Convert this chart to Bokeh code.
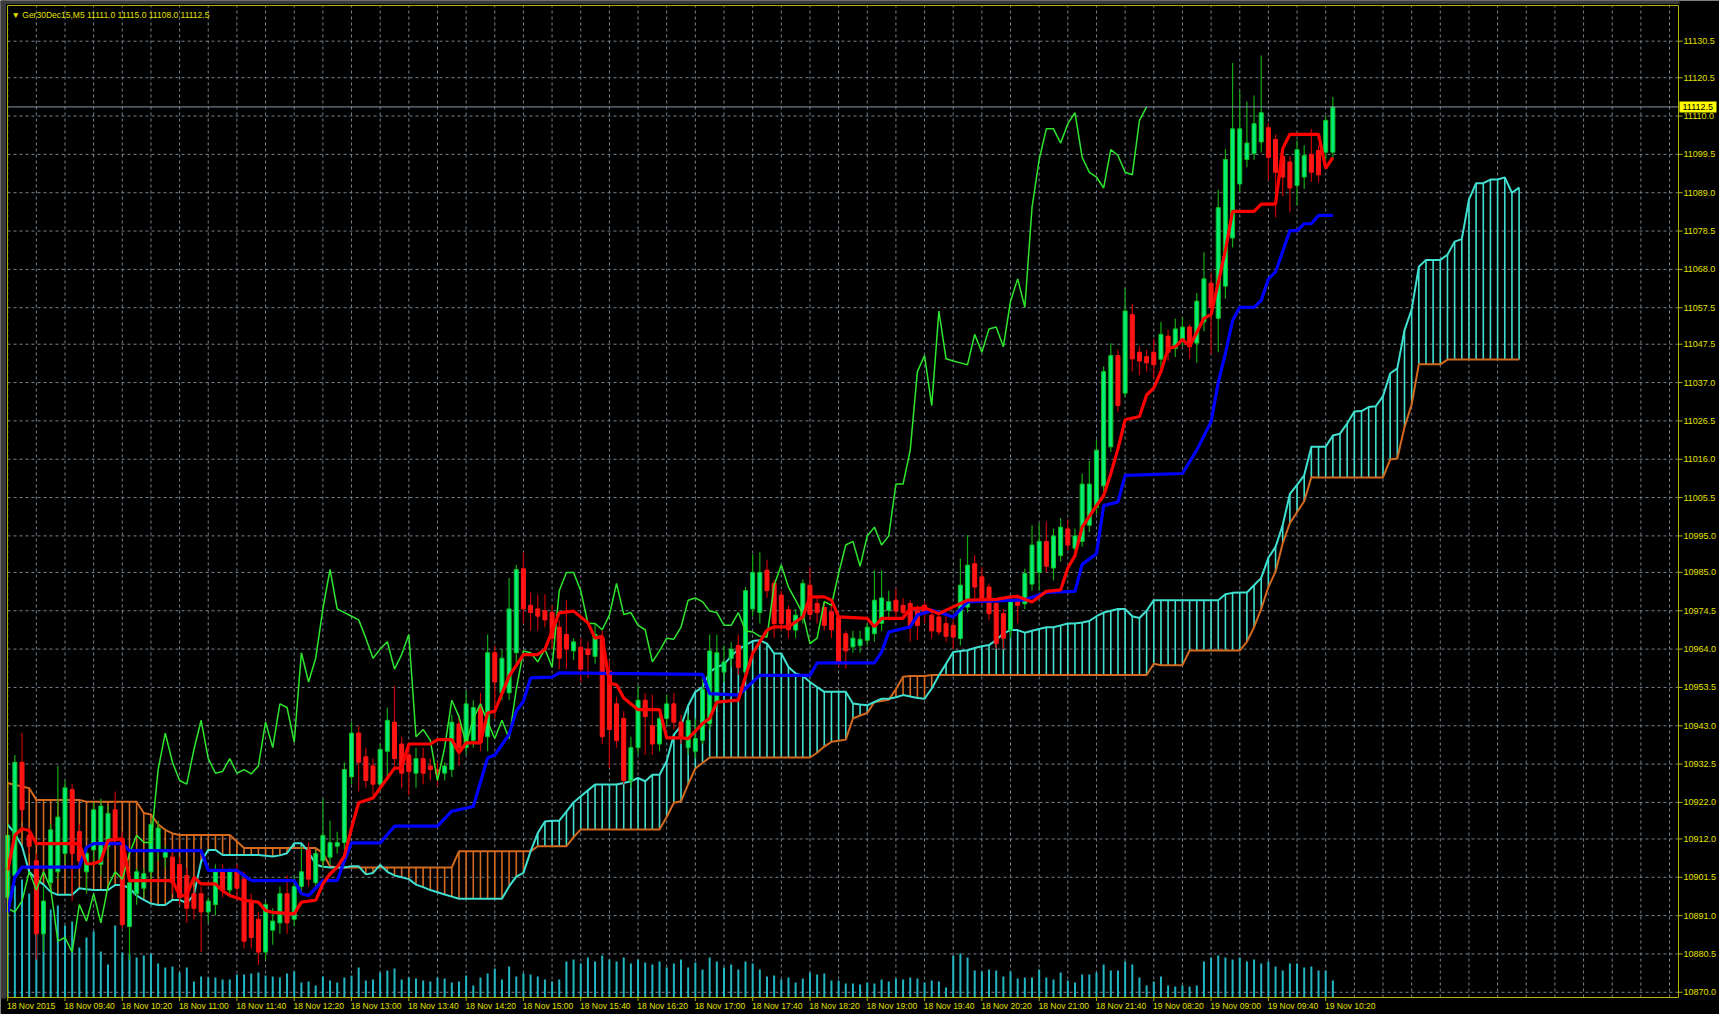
from bokeh.plotting import figure
from bokeh.models import Range1d, ColumnDataSource
from bokeh.embed import file_html
from bokeh.resources import INLINE
from bokeh.core.properties import value

# ---------------- data (M5 bars, index 0 = 18 Nov 2015 09:00) ----------------
time_bars = [0, 8, 16, 24, 32, 40, 48, 56, 64, 72, 80, 88, 96, 104, 112, 120,
             128, 136, 144, 152, 160, 168, 176, 184]
time_labels = ["18 Nov 2015", "18 Nov 09:40", "18 Nov 10:20", "18 Nov 11:00", "18 Nov 11:40",
               "18 Nov 12:20", "18 Nov 13:00", "18 Nov 13:40", "18 Nov 14:20", "18 Nov 15:00",
               "18 Nov 15:40", "18 Nov 16:20", "18 Nov 17:00", "18 Nov 17:40", "18 Nov 18:20",
               "18 Nov 19:00", "18 Nov 19:40", "18 Nov 20:20", "18 Nov 21:00", "18 Nov 21:40",
               "19 Nov 08:20", "19 Nov 09:00", "19 Nov 09:40", "19 Nov 10:20"]

price_ticks = [11130.5, 11120.5, 11110.0, 11099.5, 11089.0, 11078.5, 11068.0, 11057.5,
               11047.5, 11037.0, 11026.5, 11016.0, 11005.5, 10995.0, 10985.0, 10974.5,
               10964.0, 10953.5, 10943.0, 10932.5, 10922.0, 10912.0, 10901.5, 10891.0,
               10880.5, 10870.0]

opens = [
    10896, 10902, 10933, 10913, 10906, 10886, 10900, 10903, 10908, 10925.5,
    10914, 10903, 10909, 10905, 10910, 10920, 10912, 10888, 10897, 10898.5,
    10903, 10909, 10907, 10907, 10905, 10902, 10897, 10897, 10892, 10894,
    10903, 10898, 10903, 10901, 10895, 10890, 10881, 10887, 10889, 10897,
    10890, 10899, 10909, 10900, 10906, 10907, 10910, 10911, 10929, 10941,
    10934.5, 10932, 10927, 10936, 10944, 10938, 10935, 10930, 10934, 10932,
    10931, 10930, 10931, 10943.5, 10937, 10939, 10948, 10940, 10963, 10952,
    10952, 10963, 10986, 10976, 10975, 10974.5, 10974, 10970, 10968, 10963.5,
    10964.5, 10964, 10962, 10967, 10958, 10949, 10945, 10928, 10937, 10950,
    10943, 10938, 10945, 10949, 10944, 10937, 10936, 10939, 10943.6, 10949.5,
    10957.7, 10961.4, 10965, 10957.7, 10975, 10974, 10985.6, 10982, 10978.8, 10974.8,
    10969.2, 10972.8, 10981.5, 10976.5, 10975.4, 10974.2, 10972.8, 10968.2, 10964.6, 10965,
    10966.4, 10968.2, 10971, 10974.6, 10977.4, 10976, 10976.5, 10974.6, 10976, 10973.3,
    10972.8, 10971, 10970.5, 10966.9, 10975.5, 10987.4, 10983.8, 10981, 10976.5, 10973.7,
    10969.2, 10977, 10976.4, 10981.8, 10985, 10993.5, 10986.2, 10989.6, 10996.9, 10991.6,
    10993.5, 10997.9, 11002.8, 11008.7, 11019.4, 11044.4, 11034.1, 11055.6, 11045.3, 11044.1,
    11045.3, 11043.4, 11049.7, 11046.3, 11048.8, 11052.2, 11047.8, 11053.6, 11064.2, 11054.6,
    11063.4, 11076.6, 11091.4, 11098.1, 11099.7, 11102.9, 11106.8, 11103.6, 11098.9, 11097.4,
    11091.0, 11093.3, 11099.5, 11100.6, 11100.1, 11100.1]

highs = [
    10916, 10935, 10941, 10915, 10908, 10899, 10916, 10932, 10928, 10927,
    10916, 10910, 10922, 10923, 10921, 10925, 10914, 10901, 10904, 10904,
    10917, 10917, 10910, 10909, 10907, 10904, 10899, 10899, 10896, 10905,
    10905, 10904, 10905, 10903, 10897, 10892, 10895, 10893, 10899, 10902,
    10902, 10910, 10911, 10909, 10923, 10917, 10914, 10933, 10944, 10943,
    10937, 10934, 10938, 10948, 10954, 10940, 10937, 10937, 10937, 10934,
    10933, 10933, 10946, 10946, 10952.5, 10950, 10952, 10968, 10965, 10964,
    10983.5, 10987, 10990.5, 10979.5, 10979, 10979, 10976, 10972, 10977.5, 10967,
    10967, 10966, 10971, 10969, 10961, 10951, 10947, 10940, 10954, 10952,
    10951.5, 10946, 10951.5, 10952, 10946, 10946, 10945, 10956, 10968, 10968,
    10965, 10966, 10968, 10981, 10990, 10990.5, 10988.5, 10983, 10980, 10976,
    10975, 10983, 10986.5, 10978, 10977, 10976, 10974, 10969, 10969, 10969,
    10971, 10985.6, 10985.6, 10980, 10980.6, 10978, 10977.4, 10976, 10977, 10975,
    10974, 10973, 10972, 10988.8, 10995.2, 10989.7, 10986.5, 10982, 10978, 10975,
    10979, 10979, 10986, 10997.9, 10998.5, 10999, 10997, 10999.9, 10999.5, 10997,
    11012.1, 11015.5, 11021.4, 11041.5, 11047.8, 11046, 11062.9, 11058.5, 11047, 11046,
    11049, 11053.6, 11051.5, 11054.5, 11055, 11053, 11061.5, 11072.7, 11067, 11089.8,
    11101, 11124.5, 11117, 11114, 11115.6, 11126.6, 11108, 11105, 11101, 11099,
    11103.3, 11102, 11106.5, 11102, 11110, 11115.2]

lows = [
    10893, 10900, 10917, 10908, 10879, 10881, 10899, 10901, 10905, 10895,
    10905, 10897, 10906, 10902, 10907, 10910, 10887.5, 10879, 10894, 10896,
    10901, 10906, 10904, 10897, 10894, 10889, 10890, 10881, 10889, 10891,
    10896, 10896, 10896, 10882, 10882, 10877.5, 10879, 10883, 10886, 10886,
    10888, 10897, 10899, 10898, 10904, 10905, 10908, 10909, 10927, 10925,
    10926, 10924, 10925, 10928, 10932, 10926, 10924, 10926, 10927, 10928,
    10926.5, 10928, 10929, 10932, 10935, 10937, 10936, 10936, 10945, 10950,
    10950, 10960, 10971, 10969, 10969, 10970, 10964, 10958.5, 10958.5, 10961,
    10955, 10956, 10960, 10938, 10931.5, 10937, 10927, 10926, 10935, 10935,
    10935, 10936, 10943, 10942, 10938, 10935, 10934, 10938, 10942, 10948,
    10955, 10959, 10957, 10956, 10973, 10971, 10978, 10967, 10969, 10967,
    10967, 10971, 10972, 10971, 10969, 10967, 10959, 10958.7, 10963, 10963,
    10965, 10966, 10969, 10972, 10973, 10972, 10966, 10966.4, 10971, 10967,
    10967.8, 10966, 10964, 10965, 10974, 10978, 10976, 10972, 10964, 10964,
    10967, 10971, 10975, 10980, 10980, 10985, 10982.8, 10988, 10991, 10990,
    10992, 10996, 11001, 11007, 11018, 11029, 11033, 11040, 11039, 11040,
    11038, 11041, 11043, 11044, 11047, 11043.4, 11042.4, 11051, 11044.8, 11045.3,
    11060, 11074, 11089, 11096, 11098, 11100, 11092.4, 11082.3, 11088, 11083.7,
    11085.5, 11090, 11092, 11091.9, 11098, 11098]

closes = [
    10913, 10933, 10920, 10910, 10886, 10895, 10914.5, 10918, 10926, 10908,
    10906, 10908, 10920, 10921, 10919, 10912, 10888.5, 10900, 10903, 10902.5,
    10916, 10915, 10909, 10900, 10896, 10893, 10893, 10892, 10895, 10903,
    10898, 10903, 10898.5, 10884, 10885, 10881, 10894, 10889.5, 10897, 10889,
    10899, 10903, 10901, 10908, 10913, 10911, 10911, 10931, 10941, 10933,
    10928, 10927, 10936.5, 10944.5, 10934, 10930, 10930.5, 10934, 10930, 10931,
    10929.8, 10932, 10944, 10937, 10949, 10948, 10938.5, 10963, 10955, 10961.5,
    10975, 10985.8, 10975, 10974, 10973, 10972, 10967, 10961.5, 10964, 10966,
    10958.5, 10962.5, 10968, 10940, 10942, 10939, 10928, 10937, 10950, 10945.5,
    10938, 10945, 10949, 10944, 10939.5, 10944.5, 10939.5, 10953, 10963.5, 10963,
    10960.5, 10964, 10959, 10980, 10985, 10985, 10980, 10971, 10971, 10969.3,
    10973.3, 10982, 10973.5, 10974, 10970.5, 10969.3, 10960.5, 10963.5, 10967, 10966.7,
    10970, 10977.4, 10978, 10977, 10974.4, 10974, 10970.5, 10970.5, 10974, 10969,
    10968.7, 10967.5, 10967.3, 10981.5, 10987, 10981, 10977.4, 10973.7, 10965.5, 10967,
    10977, 10976, 10984.7, 10992.5, 10993.5, 10986.7, 10995, 10997.4, 10992.5, 10995,
    11009.2, 11009.2, 11018.5, 11040.0, 11044.4, 11030.7, 11056.6, 11043.5, 11042.9, 11042.4,
    11041.9, 11050.2, 11045.3, 11051.7, 11052.2, 11046.8, 11059.3, 11065.4, 11057.6, 11084.9,
    11098.1, 11106.5, 11106.5, 11102.6, 11107.9, 11110.9, 11098.7, 11094.6, 11093.3, 11090.3,
    11100.8, 11099.2, 11094.6, 11093.9, 11108.8, 11112.5]

volumes = [
    105, 112, 118, 104, 96, 86, 88, 92, 72, 76,
    50, 60, 66, 46, 33, 72, 45, 43, 40, 42,
    44, 34, 30, 31, 25, 30, 16, 21, 20, 20,
    18, 18, 23, 23, 24, 25, 22, 21, 20, 24,
    26, 15, 16, 12, 21, 17, 15, 20, 22, 30,
    17, 18, 25, 27, 29, 18, 20, 19, 17, 16,
    20, 19, 15, 16, 22, 12, 20, 24, 29, 18,
    31, 21, 24, 23, 21, 18, 16, 18, 36, 38,
    34, 40, 36, 42, 38, 36, 40, 34, 38, 35,
    33, 36, 30, 34, 38, 30, 35, 28, 40, 36,
    30, 33, 28, 36, 34, 28, 21, 22, 18, 20,
    15, 19, 25, 23, 24, 17, 17, 14, 14, 13,
    15, 14, 18, 16, 19, 18, 20, 19, 15, 17,
    16, 10, 42, 44, 40, 27, 26, 28, 27, 21,
    26, 19, 20, 20, 28, 20, 18, 25, 17, 15,
    23, 23, 25, 33, 27, 27, 36, 33, 20, 12,
    16, 21, 12, 11, 12, 11, 12, 36, 40, 42,
    40, 38, 40, 36, 38, 34, 36, 31, 27, 34,
    34, 30, 31, 27, 27, 17]

# Ichimoku lines, read as (bar, value) vertices
tenkan = [(0, 10903.4), (1, 10913), (2, 10914.8), (3, 10914.3), (4, 10910.7), (10, 10910.7),
          (11, 10905.2), (12, 10905.2), (13, 10906), (14, 10911.6), (16, 10912), (17, 10900.6),
          (23, 10900.6), (24, 10896.5), (25, 10896.5), (26, 10901.5), (27, 10899.7), (29, 10899.7),
          (30, 10897.8), (31, 10896.5), (33, 10895.2), (35, 10894.7), (36, 10892.4), (37, 10891.9),
          (40, 10891.5), (41, 10894.7), (43, 10895.2), (44, 10899.7), (45, 10902.4), (46, 10904.3),
          (47, 10907.3), (48, 10915), (49, 10921.9), (51, 10923.2), (54, 10931.4), (55, 10931.4),
          (56, 10938), (59, 10938), (60, 10939.2), (62, 10939.2), (63, 10935.6), (64, 10938.3),
          (66, 10938.3), (67, 10946.5), (68, 10947), (70, 10956.6), (72, 10962.5), (74, 10962.5),
          (75, 10963.9), (77, 10973.9), (79, 10974.4), (81, 10971.2), (82, 10967), (83, 10967.5),
          (84, 10954.7), (85, 10954.2), (86, 10950.6), (88, 10947.4), (91, 10947.4), (92, 10939.7),
          (94, 10939.7), (95, 10939.5), (97, 10943.6), (98, 10945), (99, 10949.5), (102, 10950),
          (103, 10956.4), (104, 10962.8), (106, 10969.2), (107, 10970.1), (109, 10970.1),
          (111, 10972.8), (112, 10978.3), (114, 10978.3), (115, 10977.4), (116, 10972.8),
          (120, 10972.4), (121, 10970.1), (122, 10972.4), (125, 10972.4), (126, 10975.1),
          (128, 10975.3), (130, 10973.7), (134, 10977.4), (138, 10977.6), (140, 10978.3),
          (141, 10978.4), (143, 10976.9), (145, 10979.8), (147, 10980.2), (148, 10986.2),
          (149, 10989.6), (150, 10997.4), (152, 11003.3), (153, 11006), (154, 11012),
          (155, 11018.9), (156, 11026.8), (158, 11027.7), (159, 11033.6), (160, 11035.5),
          (161, 11040), (162, 11046.3), (163, 11046.8), (164, 11048.8), (165, 11047),
          (166, 11050.7), (167, 11054.6), (168, 11055.6), (169, 11064.4), (170, 11073.2),
          (171, 11083.9), (174, 11083.9), (175, 11085.9), (177, 11085.9), (178, 11101.1),
          (179, 11105), (183, 11105), (184, 11095.7), (185, 11098.6)]

kijun = [(0, 10891.9), (1, 10901.5), (2, 10904.3), (10, 10904.3), (11, 10909.7), (12, 10910.7),
         (16, 10910.7), (17, 10908.8), (27, 10908.8), (28, 10903.4), (32, 10903.4), (34, 10900.6),
         (40, 10900.6), (41, 10897), (42, 10896.5), (44, 10900.6), (46, 10900.6), (47, 10906),
         (48, 10910.9), (52, 10910.9), (54, 10915.5), (60, 10915.5), (62, 10919.6), (65, 10920.9),
         (67, 10934.2), (68, 10935), (70, 10940.6), (71, 10947), (72, 10949.7), (73, 10956.1),
         (76, 10956.3), (77, 10957.5), (97, 10957.1), (98, 10951.8), (102, 10951.4),
         (103, 10953.2), (105, 10956.8), (112, 10956.8), (113, 10960.2), (121, 10960.2),
         (122, 10963.2), (123, 10968.7), (126, 10970.1), (127, 10973.3), (129, 10974.6),
         (131, 10973.5), (132, 10972.8), (134, 10976.9), (142, 10977.5), (145, 10979.5),
         (149, 10979.8), (150, 10987.2), (152, 10990.1), (153, 11003.3), (155, 11004.3),
         (156, 11011.6), (164, 11012.1), (166, 11018.5), (168, 11026.3), (169, 11037),
         (170, 11045), (171, 11054), (172, 11057.6), (174, 11057.6), (175, 11059.5),
         (176, 11065.4), (177, 11067.3), (179, 11078.6), (180, 11078.6), (181, 11080.5),
         (182, 11080.5), (183, 11082.8), (185, 11082.8)]

senkou_a = [
    10915.9, 10913.5, 10910, 10903, 10901, 10899.5, 10897.5, 10896.7, 10896.7, 10896.7,
    10898.5, 10898.2, 10898, 10898, 10898, 10899.4, 10899.4, 10898.5, 10896.5, 10895.3,
    10894.3, 10893.9, 10893.9, 10895.3, 10895.3, 10894.4, 10896.7, 10905.8, 10909, 10909,
    10907.6, 10907.6, 10907.6, 10907.6, 10907.6, 10907.6, 10907.4, 10907.2, 10907.5, 10908.1,
    10910.8, 10910.8, 10908.5, 10905, 10904.4, 10904.2, 10904.2, 10904.2, 10904.5, 10904.5,
    10902.3, 10902.7, 10904.9, 10903, 10902, 10901.5, 10901, 10899.5, 10898.8, 10898,
    10897.4, 10896.8, 10896.2, 10895.6, 10895.6, 10895.6, 10895.6, 10895.6, 10895.6, 10895.6,
    10899, 10901.7, 10902.7, 10908.6, 10913.6, 10916.8, 10917, 10917, 10919.5, 10922,
    10923.7, 10925.3, 10926.9, 10926.9, 10926.9, 10926.9, 10927.3, 10927.8, 10928.7, 10927.8,
    10929.6, 10929.6, 10933.3, 10940.6, 10943, 10948.5, 10952.3, 10953.6, 10957.7, 10959.1,
    10959.8, 10962, 10964, 10965.1, 10966.2, 10966.4, 10965.5, 10962.8, 10962.8, 10959.1,
    10957.3, 10956.7, 10955, 10953.6, 10952.3, 10952.3, 10952.3, 10952.3, 10949.1, 10948.8,
    10948.6, 10949.5, 10950.4, 10950.4, 10950.8, 10951.4, 10951, 10950.6, 10950.4, 10953.2,
    10956.8, 10960, 10963.2, 10963.5, 10963.7, 10964.3, 10964.8, 10965.1, 10966.5, 10968.3,
    10969.2, 10969.2, 10968.5, 10969, 10969.5, 10970, 10970, 10970.5, 10971, 10971,
    10971.3, 10971.7, 10973, 10974, 10974.5, 10975, 10975, 10973, 10972.5, 10974.5,
    10977.4, 10977.4, 10977.4, 10977.4, 10977.4, 10977.4, 10977.4, 10977.4, 10977.4, 10977.4,
    10979, 10979.4, 10979.5, 10979.5, 10981.5, 10983.5, 10989, 10992, 10998, 11006.5,
    11009, 11011.6, 11019.4, 11019.4, 11019.4, 11022.5, 11023, 11025.8, 11029.1, 11029.2,
    11030.3, 11030.5, 11033.3, 11039.5, 11040.9, 11051.3, 11057, 11068.7, 11070.6, 11070.6,
    11070.6, 11072, 11075.6, 11076.3, 11087.1, 11091.6, 11091.6, 11092.6, 11092.6, 11093.2,
    11089, 11090.4]

senkou_b = [
    10927.3, 10926.8, 10926.4, 10925.9, 10922.7, 10922.7, 10922.7, 10922.7, 10922.7, 10922.7,
    10922.7, 10922.2, 10922.2, 10922.2, 10922.2, 10922.2, 10922.2, 10922.2, 10922.2, 10919.1,
    10918.7, 10916, 10914.5, 10913.5, 10913.1, 10913.1, 10913.1, 10913.1, 10913.1, 10913.1,
    10913.1, 10913.1, 10911.3, 10909.5, 10909.5, 10909.5, 10909.5, 10909.5, 10909.5, 10909.5,
    10909.5, 10909.5, 10909.5, 10909.5, 10908.1, 10904.5, 10904.2, 10904.2, 10904.2, 10904.2,
    10904.2, 10904.2, 10904.2, 10904.2, 10904.2, 10904.2, 10904.2, 10904.2, 10904.2, 10904.2,
    10904.2, 10904.2, 10904.2, 10908.6, 10908.6, 10908.6, 10908.6, 10908.6, 10908.6, 10908.6,
    10908.6, 10908.6, 10908.6, 10908.6, 10910, 10910, 10910, 10910, 10910, 10912.5,
    10914.6, 10914.6, 10914.6, 10914.6, 10914.6, 10914.6, 10914.6, 10914.6, 10914.6, 10914.6,
    10914.6, 10914.6, 10918, 10921.9, 10922.3, 10927, 10931.3, 10932.8, 10934.3, 10934.3,
    10934.3, 10934.3, 10934.3, 10934.3, 10934.3, 10934.3, 10934.3, 10934.3, 10934.3, 10934.3,
    10934.3, 10934.3, 10934.3, 10935.6, 10937.3, 10938.6, 10938.9, 10939.2, 10945, 10945.8,
    10946.5, 10949.5, 10949.8, 10950.1, 10953, 10956.4, 10956.6, 10956.6, 10956.6, 10956.9,
    10956.9, 10956.9, 10956.9, 10956.9, 10956.9, 10956.9, 10956.9, 10956.9, 10956.9, 10956.9,
    10956.9, 10956.9, 10956.9, 10956.9, 10956.9, 10956.9, 10956.9, 10956.9, 10956.9, 10956.9,
    10956.9, 10956.9, 10956.9, 10956.9, 10956.9, 10956.9, 10956.9, 10956.9, 10956.9, 10956.9,
    10960, 10959.6, 10959.6, 10959.6, 10959.6, 10963.6, 10963.6, 10963.6, 10963.6, 10963.6,
    10963.6, 10963.6, 10963.6, 10966, 10970, 10975, 10981, 10985.2, 10993, 10998.5,
    11001.5, 11004.5, 11011.1, 11011, 11011, 11011, 11011, 11011, 11011, 11011,
    11011, 11011, 11011, 11015.9, 11016.2, 11024.8, 11031, 11042, 11042, 11042,
    11042, 11043.3, 11043.3, 11043.3, 11043.3, 11043.3, 11043.3, 11043.3, 11043.3, 11043.3,
    11043.3, 11043.3]

last_price = 11112.5
title_text = "\u25bc Ger30Dec15,M5  11111.0 11115.0 11108.0 11112.5"

# ---------------- styling / page geometry ----------------
YEL = "#e0e000"
FRAME = "#b4b400"
GRID = "#76838f"
BULL_FILL, BULL_LINE, BULL_WICK = "#00ee78", "#10c020", "#14a814"
BEAR_FILL, BEAR_LINE, BEAR_WICK = "#ff1414", "#ff1414", "#c80000"
KUMO_UP, KUMO_DN = "#40e0d0", "#d2691e"
FONT = "Liberation Sans"
W, H = 1719, 1014


def bx(px):      # page x (pixels) -> bar coordinate
    return (px - 7.2) / 7.163


def py(pix):     # page y (pixels) -> price coordinate
    return 11130.5 - (pix - 40.7) / 3.651


XL, XR = bx(7), bx(1678)      # chart window
YT, YB = py(5), py(997)

p = figure(width=W, height=H, x_range=Range1d(bx(0), bx(W)), y_range=Range1d(py(H), py(0)),
           x_axis_location=None, y_axis_location=None, output_backend="svg",
           toolbar_location=None, background_fill_color="#000000",
           border_fill_color="#000000", outline_line_color=None, min_border=0)
p.xgrid.visible = False
p.ygrid.visible = False
p.extra_y_ranges = {"vol": Range1d(-(H - 997), 997)}   # volume histogram base at chart bottom

# window edges
p.quad(left=bx(0), right=bx(5.5), top=py(0), bottom=py(998), fill_color="#3a3a3a", line_color=None)
p.quad(left=bx(0), right=bx(1679), top=py(0), bottom=py(3.5), fill_color="#3a3a3a", line_color=None)

# grid (dashed)
gx = list(range(0, 233, 4))
p.segment(x0=gx, y0=YB, x1=gx, y1=YT, line_color=GRID, line_width=1, line_dash="3 3")
p.segment(x0=XL, y0=price_ticks, x1=XR, y1=price_ticks, line_color=GRID, line_width=1,
          line_dash="3 3")

# volumes
bars = list(range(len(closes)))
p.segment(x0=bars, y0=0, x1=bars, y1=volumes, y_range_name="vol",
          line_color="#22b5c2", line_width=2)

# kumo hatching + span lines
cloud_x = list(range(len(senkou_a)))
hatch_col = [KUMO_UP if a >= b else KUMO_DN for a, b in zip(senkou_a, senkou_b)]
p.segment(x0=cloud_x, y0=senkou_a, x1=cloud_x, y1=senkou_b, line_color=hatch_col, line_width=1.6)
p.line(cloud_x, senkou_b, line_color=KUMO_DN, line_width=2)
p.line(cloud_x, senkou_a, line_color=KUMO_UP, line_width=2)

# candles
up = [c >= o for o, c in zip(opens, closes)]
src = ColumnDataSource(dict(
    x=bars, h=highs, l=lows,
    top=[max(o, c) for o, c in zip(opens, closes)],
    bot=[min(o, c) for o, c in zip(opens, closes)],
    fill=[BULL_FILL if u else BEAR_FILL for u in up],
    line=[BULL_LINE if u else BEAR_LINE for u in up],
    wick=[BULL_WICK if u else BEAR_WICK for u in up],
))
p.segment(x0="x", y0="l", x1="x", y1="h", source=src, line_color="wick", line_width=1.2)
p.vbar(x="x", width=0.56, top="top", bottom="bot", source=src,
       fill_color="fill", line_color="line", line_width=1)

# chikou span (close plotted 26 bars back)
p.line(list(range(len(closes) - 26)), closes[26:], line_color="#2ee62e", line_width=1.5)

# kijun & tenkan
p.line([b for b, v in kijun], [v for b, v in kijun], line_color="#0000ff", line_width=3.2)
p.line([b for b, v in tenkan], [v for b, v in tenkan], line_color="#ff0000", line_width=3.2)

# current price line
p.segment(x0=XL, y0=last_price, x1=XR, y1=last_price, line_color="#8a98a6", line_width=1)

# chart window border
p.line([XL, XL, XR, XR, XL], [YB, YT, YT, YB, YB], line_color=FRAME, line_width=1)

# price scale (right)
p.segment(x0=XR, y0=price_ticks, x1=bx(1682), y1=price_ticks, line_color=FRAME, line_width=1)
p.text(x=[bx(1683)] * len(price_ticks), y=price_ticks, text=[f"{v:.1f}" for v in price_ticks],
       text_font=value(FONT), text_font_size=value("9px"), text_color=YEL,
       text_align="left", text_baseline="middle")

# current price tag
p.quad(left=bx(1679), right=bx(1716), top=last_price + 5.5 / 3.651,
       bottom=last_price - 5.5 / 3.651, fill_color="#ffff00", line_color=None)
p.text(x=[bx(1682)], y=[last_price], text=[f"{last_price:.1f}"], text_font=value(FONT),
       text_font_size=value("9px"), text_color="#000000", text_align="left",
       text_baseline="middle")

# time scale (bottom)
p.segment(x0=time_bars, y0=YB, x1=time_bars, y1=py(1000.5), line_color=FRAME, line_width=1)
p.text(x=[b - 0.1 for b in time_bars], y=[py(1005.5)] * len(time_bars), text=time_labels,
       text_font=value(FONT), text_font_size=value("8.5px"), text_color=YEL,
       text_align="left", text_baseline="middle")

# chart title
p.text(x=[bx(11)], y=[py(14)], text=[title_text], text_font=value(FONT),
       text_font_size=value("8.5px"), text_color=YEL, text_align="left", text_baseline="middle")

open("out.html", "w").write(file_html(p, INLINE))
